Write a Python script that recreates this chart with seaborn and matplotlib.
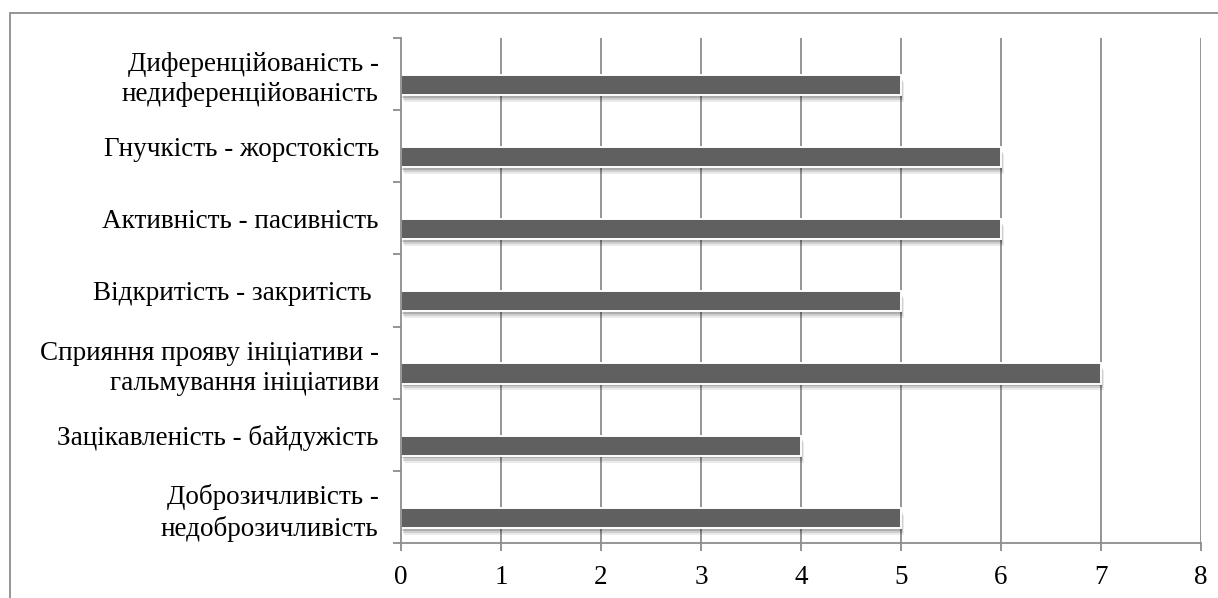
import matplotlib
matplotlib.use("Agg")
import matplotlib.pyplot as plt
import matplotlib.patheffects as pe
from matplotlib.patches import Rectangle
import pandas as pd
import seaborn as sns

categories = [
    "Диференційованість -\nнедиференційованість",
    "Гнучкість - жорстокість",
    "Активність - пасивність",
    "Відкритість - закритість ",
    "Сприяння прояву ініціативи -\nгальмування ініціативи",
    "Зацікавленість - байдужість",
    "Доброзичливість -\nнедоброзичливість",
]
values = [5, 6, 6, 5, 7, 4, 5]
x_ticks = [0, 1, 2, 3, 4, 5, 6, 7, 8]

sns.set_theme(style="white")
plt.rcParams["font.family"] = ["Liberation Serif", "DejaVu Serif"]

W, H = 1218, 598
fig = plt.figure(figsize=(W / 100, H / 100), dpi=100)
fig.patch.set_facecolor("white")

# outer chart frame
fig.patches.append(Rectangle((9.5 / W, -0.1), 1.2, 1 - 13 / H + 0.1,
                             transform=fig.transFigure, fill=False,
                             edgecolor="#8c8c8c", linewidth=1.3))

ax = fig.add_axes([401 / W, 1 - 543 / H, 800 / W, 505 / H])

df = pd.DataFrame({"category": categories, "value": values, "series": "main"})

sns.barplot(data=df, x="value", y="category", hue="series",
            hue_order=["spare", "main"], order=categories, orient="h",
            width=0.6, gap=0.07, dodge=True, legend=False,
            palette={"spare": "#606060", "main": "#606060"},
            edgecolor="white", linewidth=1.4, zorder=3, ax=ax)

shadow = [
    pe.SimplePatchShadow(offset=(2.0, -5.0), shadow_rgbFace="#000000", alpha=0.08),
    pe.SimplePatchShadow(offset=(1.5, -3.5), shadow_rgbFace="#000000", alpha=0.12),
    pe.SimplePatchShadow(offset=(0.8, -2.0), shadow_rgbFace="#000000", alpha=0.16),
    pe.Normal(),
]
for p in ax.patches:
    p.set_path_effects(shadow)

grid_c = "#8c8c8c"
ax.set_xlim(0, 8)
ax.set_ylim(len(categories) - 0.5, -0.5)
ax.set_xticks(x_ticks)
ax.set_xticklabels([str(t) for t in x_ticks])
for t in x_ticks[1:]:
    ax.axvline(t, color=grid_c, linewidth=1.3, zorder=1)

ax.set_yticks(range(len(categories)))
ax.set_yticklabels(categories, multialignment="right", linespacing=1.28)
ax.set_yticks([i - 0.5 for i in range(len(categories) + 1)], minor=True)

ax.tick_params(axis="y", which="major", length=0, pad=16, labelsize=19.5,
               colors="black")
ax.tick_params(axis="y", which="minor", length=6, width=1.3, color=grid_c,
               direction="out", left=True)
ax.tick_params(axis="x", which="major", length=6, width=1.3, color=grid_c,
               direction="out", bottom=True, pad=10, labelsize=19.5,
               labelcolor="black")

ax.set_xlabel("")
ax.set_ylabel("")
for side in ("top", "right"):
    ax.spines[side].set_visible(False)
for side in ("left", "bottom"):
    ax.spines[side].set_color(grid_c)
    ax.spines[side].set_linewidth(1.3)
    ax.spines[side].set_zorder(4)
ax.set_facecolor("white")

fig.savefig("out.png", dpi=100, facecolor="white")
